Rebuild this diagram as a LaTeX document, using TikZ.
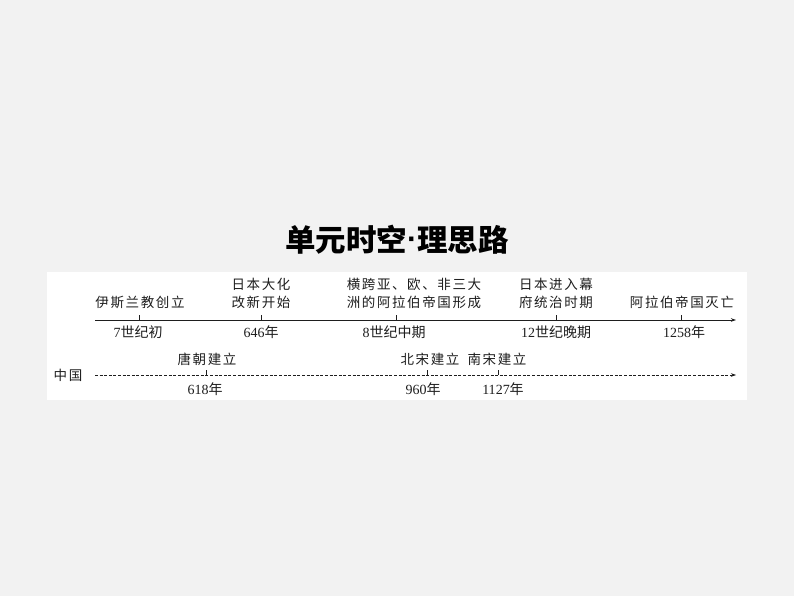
\documentclass[tikz,border=0pt]{standalone}
\usepackage{fontspec}
\setmainfont{Noto Sans CJK SC}
\newfontfamily\cjk{Noto Sans CJK SC}
\newfontfamily\numf{Liberation Serif}
\newfontfamily\latsans{Liberation Sans}
\usetikzlibrary{arrows.meta}
\definecolor{bg}{HTML}{F2F2F2}
\definecolor{ink}{HTML}{1E1E1E}
\begin{document}
\begin{tikzpicture}[x=1pt,y=-1pt,
  lbl/.style={font=\fontsize{13.5}{18}\selectfont\cjk\addfontfeature{LetterSpace=12}, text=ink, inner sep=0pt, align=center},
  yr/.style={font=\fontsize{14}{16}\selectfont\cjk, text=ink, inner sep=0pt},
  axis/.style={draw=ink, line width=0.9pt, -{Stealth[length=5pt,width=3.5pt]}},
  daxis/.style={draw=ink, line width=0.6pt, dash pattern=on 3pt off 1.6pt, -{Stealth[length=5pt,width=3.5pt]}},
  tick/.style={draw=ink, line width=0.7pt}]
\useasboundingbox (0,0) rectangle (794,596);
\fill[bg] (0,0) rectangle (794,596);
\fill[white] (47,272) rectangle (747,400);
\node[font=\fontsize{30.5}{32}\selectfont\cjk\bfseries, text=black] (title) at (397,240) {单元时空{\latsans\bfseries\raisebox{0.08em}{·}}理思路};
% main axis
\coordinate (a0) at (95,320);
\coordinate (a1) at (736,320);
\draw[axis] (a0) -- (a1);
\foreach \n/\x in {t1/139,t2/261,t3/396,t4/556,t5/681}{
  \coordinate (\n) at (\x,320);
  \draw[tick] (\n) -- ++(0,-5);
}
\node[lbl] (l1) at (140,302) {伊斯兰教创立};
\node[lbl, anchor=south] (l2) at (261,309) {日本大化\\改新开始};
\node[lbl, anchor=south] (l3) at (414,309) {横跨亚、欧、非三大\\洲的阿拉伯帝国形成};
\node[lbl, anchor=south] (l4) at (556,309) {日本进入幕\\府统治时期};
\node[lbl] (l5) at (682,302) {阿拉伯帝国灭亡};
\node[yr] (y1) at (138,332) {{\numf 7}世纪初};
\node[yr] (y2) at (261,332) {{\numf 646}年};
\node[yr] (y3) at (394,332) {{\numf 8}世纪中期};
\node[yr] (y4) at (556,332) {{\numf 12}世纪晚期};
\node[yr] (y5) at (684,332) {{\numf 1258}年};
% China axis
\node[lbl] (cn) at (68,375) {中国};
\coordinate (b0) at (95,375);
\coordinate (b1) at (736,375);
\draw[daxis] (b0) -- (b1);
\foreach \n/\x in {c1/206,c2/427,c3/498}{
  \coordinate (\n) at (\x,375);
  \draw[tick, line width=0.6pt] (\n) -- ++(0,-5);
}
\node[lbl] (m1) at (207,359) {唐朝建立};
\node[lbl] (m2) at (430,359) {北宋建立};
\node[lbl] (m3) at (497,359) {南宋建立};
\node[yr] (z1) at (205,389) {{\numf 618}年};
\node[yr] (z2) at (423,389) {{\numf 960}年};
\node[yr] (z3) at (503,389) {{\numf 1127}年};
\end{tikzpicture}
\end{document}
